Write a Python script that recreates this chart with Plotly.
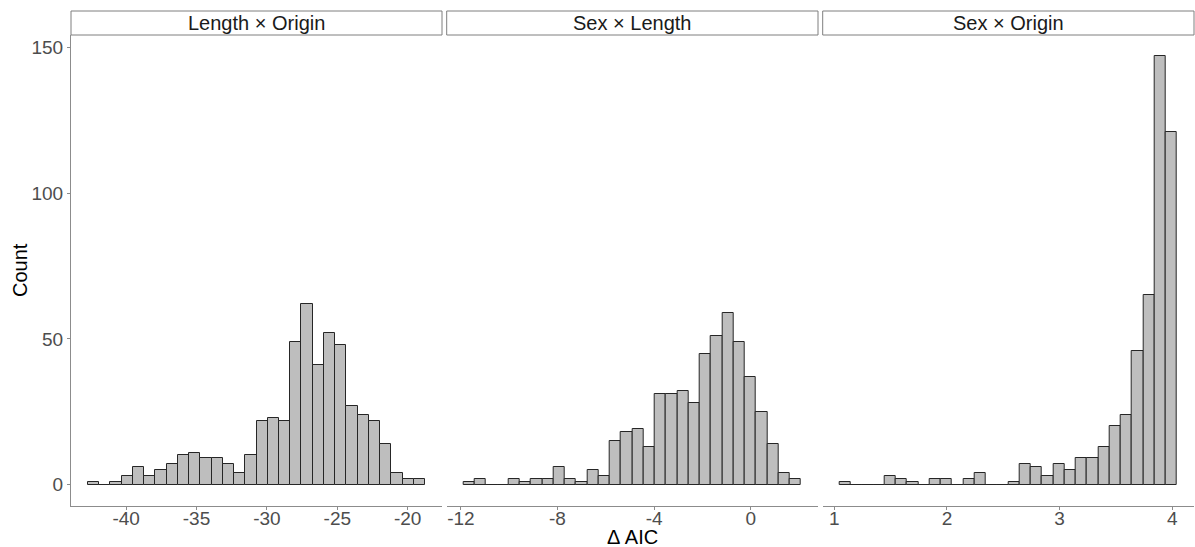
import numpy as np
import plotly.graph_objects as go

W, H = 1195, 547

panel_titles = ["Length × Origin", "Sex × Length", "Sex × Origin"]

counts_length_origin = [1, 0, 1, 3, 6, 3, 5, 7, 10, 11, 9, 9, 7, 4, 10,
                        22, 23, 22, 49, 62, 41, 52, 48, 27, 24, 22, 14, 4, 2, 2]
counts_sex_length = [1, 2, 0, 0, 2, 1, 2, 2, 6, 2, 1, 5, 3, 15, 18,
                     19, 13, 31, 31, 32, 28, 45, 51, 59, 49, 37, 25, 14, 4, 2]
counts_sex_origin = [1, 0, 0, 0, 3, 2, 1, 0, 2, 2, 0, 2, 4, 0, 0,
                     1, 7, 6, 3, 7, 5, 9, 9, 13, 20, 24, 46, 65, 147, 121]

bin_start = [-42.72, -11.89, 1.047]
bin_width = [0.7987, 0.466, 0.0999]

x_tickvals = [[-40, -35, -30, -25, -20], [-12, -8, -4, 0], [1, 2, 3, 4]]
y_tickvals = [0, 50, 100, 150]

all_counts = [counts_length_origin, counts_sex_length, counts_sex_origin]

# pixel layout
px_domains = [(71, 442), (446.7, 818), (822.7, 1194)]
plot_top, plot_bottom = 35, 506
strip_top = 11

FONT = "Liberation Sans, Arial, sans-serif"
AXIS_COL = "#8c8c8c"
TICK_COL = "#4d4d4d"
TICK_SIZE = 19
STRIP_SIZE = 20
TITLE_SIZE = 20

fig = go.Figure()
ymax = max(max(c) for c in all_counts)
ypad = 0.05 * ymax
yrange = [-ypad, ymax + ypad]

ydom = [(H - plot_bottom) / H, (H - plot_top) / H]

shapes = []
annotations = []
for i, counts in enumerate(all_counts):
    n = len(counts)
    centers = bin_start[i] + bin_width[i] * (np.arange(n) + 0.5)
    lo = bin_start[i]
    hi = bin_start[i] + n * bin_width[i]
    pad = 0.05 * (hi - lo)
    xa = "x" if i == 0 else f"x{i+1}"
    ya = "y" if i == 0 else f"y{i+1}"
    fig.add_trace(go.Bar(
        x=centers, y=counts, width=bin_width[i],
        marker=dict(color="#bebebe", line=dict(color="#262626", width=1)),
        xaxis=xa, yaxis=ya, showlegend=False, hoverinfo="x+y",
    ))
    dom = [px_domains[i][0] / W, px_domains[i][1] / W]
    xkey = "xaxis" if i == 0 else f"xaxis{i+1}"
    ykey = "yaxis" if i == 0 else f"yaxis{i+1}"
    fig.layout[xkey] = dict(
        domain=dom, range=[lo - pad, hi + pad], anchor=ya,
        tickvals=x_tickvals[i], ticktext=[str(v) for v in x_tickvals[i]],
        showline=True, linecolor=AXIS_COL, linewidth=1,
        ticks="outside", ticklen=3, tickcolor=AXIS_COL,
        ticklabelstandoff=-8,
        showgrid=False, zeroline=False,
        tickfont=dict(family=FONT, size=TICK_SIZE, color=TICK_COL),
    )
    yax = dict(
        domain=ydom, range=yrange, anchor=xa,
        showgrid=False, zeroline=False,
    )
    if i == 0:
        yax.update(
            tickvals=y_tickvals, showline=True, linecolor=AXIS_COL, linewidth=1,
            ticks="outside", ticklen=3, tickcolor=AXIS_COL,
            tickfont=dict(family=FONT, size=TICK_SIZE, color=TICK_COL),
        )
    else:
        yax.update(showticklabels=False, showline=False, ticks="", matches="y")
    fig.layout[ykey] = yax

    # strip
    shapes.append(dict(
        type="rect", xref="paper", yref="paper",
        x0=dom[0], x1=dom[1], y0=(H - plot_top) / H, y1=(H - strip_top) / H,
        line=dict(color="#7f7f7f", width=1), fillcolor="white", layer="above",
    ))
    annotations.append(dict(
        text=panel_titles[i], xref="paper", yref="paper",
        x=(dom[0] + dom[1]) / 2, y=(H - (plot_top + strip_top) / 2) / H,
        xanchor="center", yanchor="middle", showarrow=False,
        font=dict(family=FONT, size=STRIP_SIZE, color="#1a1a1a"),
    ))

annotations.append(dict(
    text="Δ AIC", xref="paper", yref="paper",
    x=((px_domains[0][0] + px_domains[2][1]) / 2) / W, y=(H - 537) / H,
    xanchor="center", yanchor="middle", showarrow=False,
    font=dict(family=FONT, size=TITLE_SIZE, color="black"),
))
annotations.append(dict(
    text="Count", xref="paper", yref="paper",
    x=20 / W, y=(H - 270) / H, textangle=-90,
    xanchor="center", yanchor="middle", showarrow=False,
    font=dict(family=FONT, size=TITLE_SIZE, color="black"),
))

fig.update_layout(
    width=W, height=H,
    margin=dict(l=0, r=0, t=0, b=0),
    paper_bgcolor="white", plot_bgcolor="white",
    bargap=0, shapes=shapes, annotations=annotations,
    font=dict(family=FONT),
)

fig.write_html("out.html")
